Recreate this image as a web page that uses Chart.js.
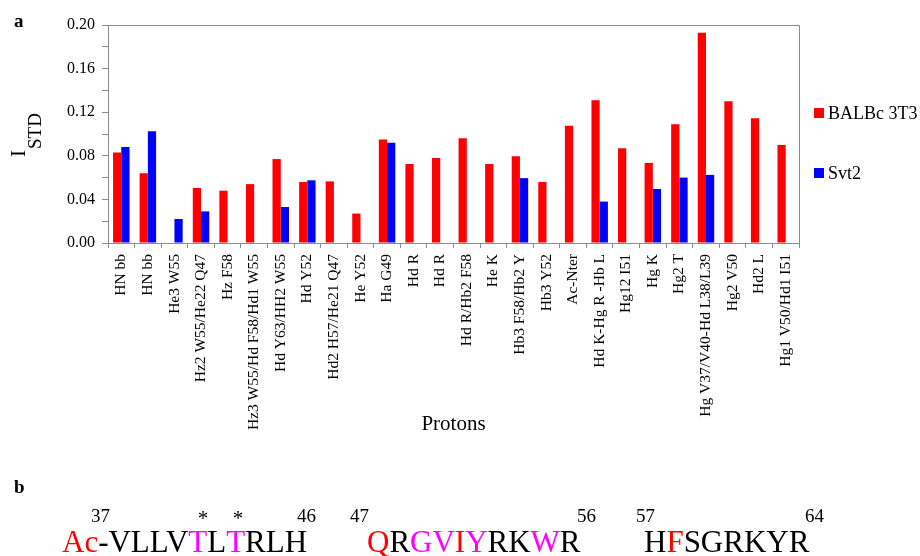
<!DOCTYPE html>
<html>
<head>
<meta charset="utf-8">
<script src="https://cdn.jsdelivr.net/npm/chart.js@4.4.0/dist/chart.umd.min.js"></script>
<style>
  body { margin: 0; background: #fff; }
  #wrap { width: 920px; height: 556px; }
</style>
</head>
<body>
<div id="wrap"><canvas id="barChart" width="920" height="556"></canvas></div>
<script>
// Proton labels along the x axis
const protons = [
    'HN bb', 'HN bb', 'He3 W55', 'Hz2 W55/He22 Q47', 'Hz F58',
    'Hz3 W55/Hd F58/Hd1 W55', 'Hd Y63/HH2 W55', 'Hd Y52', 'Hd2 H57/He21 Q47',
    'He Y52', 'Ha G49', 'Hd R', 'Hd R', 'Hd R/Hb2 F58', 'He K', 'Hb3 F58/Hb2 Y',
    'Hb3 Y52', 'Ac-Nter', 'Hd K-Hg R -Hb L', 'Hg12 I51', 'Hg K', 'Hg2 T',
    'Hg V37/V40-Hd L38/L39', 'Hg2 V50', 'Hd2 L', 'Hg1 V50/Hd1 I51'
];

// I_STD values
const balbc = [0.083, 0.064, 0, 0.0505, 0.048, 0.054, 0.077, 0.056, 0.0565,
    0.027, 0.095, 0.0725, 0.078, 0.096, 0.0725, 0.0795, 0.056, 0.1075,
    0.131, 0.087, 0.0735, 0.109, 0.193, 0.130, 0.1145, 0.090];
const svt2 = [0.088, 0.1025, 0.022, 0.029, null, null, 0.033, 0.0575, null,
    null, 0.092, null, null, null, null, 0.0595, null, null,
    0.038, null, 0.0495, 0.060, 0.0625, null, null, null];

const yTicks = ['0.00', '0.04', '0.08', '0.12', '0.16', '0.20'];

const serif = '"Liberation Serif", "Times New Roman", serif';
const axisGrey = '#8c8c8c';

// panel b: sequence, drawn as coloured runs
const RED = '#ff0000', MAG = '#ff00ff', BLK = '#000000';
const seqGroups = [
    { x: 62, runs: [['Ac', RED], ['-VLLV', BLK], ['T', MAG], ['L', BLK], ['T', MAG], ['RLH', BLK]] },
    { x: 367, runs: [['Q', RED], ['R', BLK], ['GV', MAG], ['I', RED], ['Y', MAG], ['RK', BLK], ['W', MAG], ['R', BLK]] },
    { x: 644, runs: [['H', BLK], ['F', RED], ['SGRKYR', BLK]] }
];
const seqNumbers = [['37', 91], ['46', 297], ['47', 350], ['56', 577], ['57', 636], ['64', 805]];
const stars = [203, 238];

const extras = {
    id: 'extras',
    afterDraw(chart) {
        const ctx = chart.ctx;
        const a = chart.chartArea;
        ctx.save();

        // frame top + right
        ctx.strokeStyle = axisGrey;
        ctx.lineWidth = 1;
        ctx.beginPath();
        ctx.moveTo(a.left, a.top + 0.5);
        ctx.lineTo(a.right + 0.5, a.top + 0.5);
        ctx.lineTo(a.right + 0.5, a.bottom);
        ctx.stroke();

        // panel letters
        ctx.fillStyle = '#000';
        ctx.textBaseline = 'alphabetic';
        ctx.font = 'bold 19px ' + serif;
        ctx.fillText('a', 14, 27);
        ctx.fillText('b', 14, 493);

        // y title: I with subscript STD
        ctx.save();
        ctx.translate(25, 157);
        ctx.rotate(-Math.PI / 2);
        ctx.font = '21px ' + serif;
        ctx.fillText('I', 0, 0);
        const wI = ctx.measureText('I').width;
        ctx.font = '19px ' + serif;
        ctx.fillText('STD', wI + 1, 16);
        ctx.restore();

        // legend
        ctx.font = '18px ' + serif;
        chart.data.datasets.forEach((ds, i) => {
            const cy = 113 + i * 60;
            ctx.fillStyle = ds.backgroundColor;
            ctx.fillRect(814, cy - 5, 10, 10);
            ctx.fillStyle = '#000';
            ctx.fillText(ds.label, 828, cy + 6);
        });

        // sequence
        ctx.font = '19px ' + serif;
        ctx.fillStyle = '#000';
        seqNumbers.forEach(([t, x]) => ctx.fillText(t, x, 522));
        ctx.font = '21px ' + serif;
        ctx.textAlign = 'center';
        stars.forEach(x => ctx.fillText('*', x, 525));
        ctx.textAlign = 'left';

        ctx.font = '31px ' + serif;
        seqGroups.forEach(g => {
            let x = g.x;
            g.runs.forEach(([t, c]) => {
                ctx.fillStyle = c;
                ctx.fillText(t, x, 552);
                x += ctx.measureText(t).width;
            });
        });
        ctx.restore();
    }
};

const barCtx = document.getElementById('barChart').getContext('2d');
new Chart(barCtx, {
    type: 'bar',
    data: {
        labels: protons,
        datasets: [{
            label: 'BALBc 3T3',
            data: balbc,
            backgroundColor: '#ff0000',
            borderWidth: 0,
            categoryPercentage: 0.62,
            barPercentage: 1.0
        }, {
            label: 'Svt2',
            data: svt2,
            backgroundColor: '#0000ff',
            borderWidth: 0,
            categoryPercentage: 0.62,
            barPercentage: 1.0
        }]
    },
    options: {
        responsive: false,
        animation: false,
        layout: {
            padding: { left: 0, right: 121, top: 25, bottom: 106 }
        },
        plugins: {
            legend: { display: false },
            tooltip: { enabled: false }
        },
        scales: {
            x: {
                grid: { display: true, drawOnChartArea: false, drawTicks: true, tickLength: 5, color: axisGrey, offset: true },
                border: { color: axisGrey },
                ticks: {
                    autoSkip: false,
                    minRotation: 90,
                    maxRotation: 90,
                    padding: 6,
                    color: '#000',
                    font: { family: serif, size: 15.5 }
                },
                title: {
                    display: true,
                    text: 'Protons',
                    color: '#000',
                    font: { family: serif, size: 21 },
                    padding: { top: 0, bottom: 13 }
                },
                afterFit(scale) { scale.height = 207; }
            },
            y: {
                min: 0,
                max: 0.2,
                grid: { display: true, drawOnChartArea: false, drawTicks: true, tickLength: 6, color: axisGrey },
                border: { color: axisGrey },
                ticks: {
                    stepSize: 0.02,
                    autoSkip: false,
                    padding: 7,
                    color: '#000',
                    font: { family: serif, size: 16 },
                    callback: (v, i) => (i % 2 === 0 ? yTicks[i / 2] : '')
                },
                afterFit(scale) { scale.width = 108; }
            }
        }
    },
    plugins: [extras]
});
</script>
</body>
</html>
